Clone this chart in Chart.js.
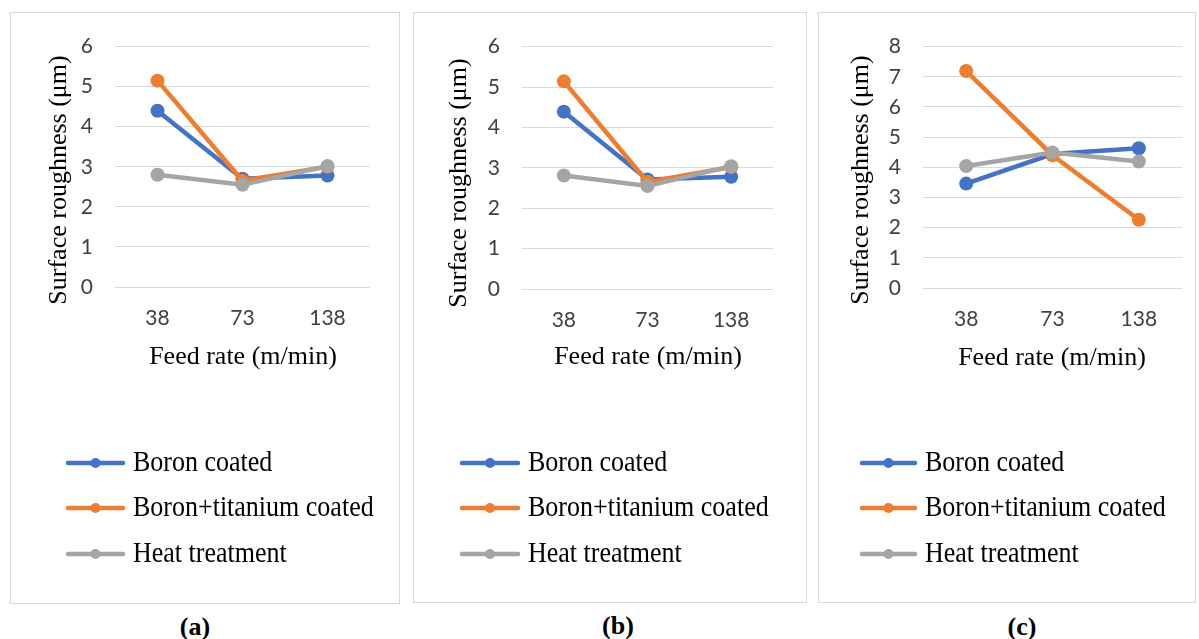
<!DOCTYPE html>
<html>
<head>
<meta charset="utf-8">
<script src="https://cdn.jsdelivr.net/npm/chart.js@4"></script>
<style>
  html,body{margin:0;padding:0;background:#fff;}
  body{width:1199px;height:639px;position:relative;overflow:hidden;}
  canvas{position:absolute;}
  .border{position:absolute;border:1px solid #d9d9d9;box-sizing:border-box;pointer-events:none;}
  .cap{position:absolute;font:bold 26px "Liberation Serif","Times New Roman",serif;color:#000;transform:translate(-50%,-50%);white-space:nowrap;}
</style>
</head>
<body>
<div class="border" style="left:10px;top:12px;width:390px;height:592px"></div>
<div class="border" style="left:413px;top:12px;width:394px;height:591px"></div>
<div class="border" style="left:818px;top:12px;width:378px;height:591px"></div>
<canvas id="ca"></canvas>
<canvas id="cb"></canvas>
<canvas id="cc"></canvas>
<div class="cap" style="left:195px;top:627px">(a)</div>
<div class="cap" style="left:618px;top:626px">(b)</div>
<div class="cap" style="left:1022px;top:627px">(c)</div>
<script>
// ---- data ----
const categories = ['38', '73', '138'];
const seriesNames = ['Boron coated', 'Boron+titanium coated', 'Heat treatment'];
const seriesColors = ['#4472C4', '#ED7D31', '#A5A5A5'];

const a_boron = [4.40, 2.70, 2.78];
const a_boronTi = [5.15, 2.65, 3.00];
const a_heat = [2.80, 2.55, 3.02];

const b_boron = [4.39, 2.71, 2.78];
const b_boronTi = [5.14, 2.65, 3.02];
const b_heat = [2.81, 2.55, 3.04];

const c_boron = [3.46, 4.44, 4.63];
const c_boronTi = [7.19, 4.40, 2.26];
const c_heat = [4.04, 4.49, 4.19];

const yMaxA = 6, yMaxB = 6, yMaxC = 8;
const xTitle = 'Feed rate (m/min)';
const yTitle = 'Surface roughness (\u03bcm)';

// ---- layout (page coordinates) ----
const panels = [
  { id: 'ca', box: {l: 10, t: 12, r: 400, b: 604}, area: {l: 115, t: 43, r: 370, b: 287},
    yMax: yMaxA, data: [a_boron, a_boronTi, a_heat],
    yT: {x: 59, y: 180}, xT: {x: 243, y: 357}, leg: {x1: 68, x2: 123, tx: 133, rows: [463, 508, 554]} },
  { id: 'cb', box: {l: 413, t: 12, r: 807, b: 603}, area: {l: 522, t: 41, r: 773, b: 289},
    yMax: yMaxB, data: [b_boron, b_boronTi, b_heat],
    yT: {x: 459, y: 183}, xT: {x: 648, y: 357}, leg: {x1: 462, x2: 518, tx: 528, rows: [463, 508, 554]} },
  { id: 'cc', box: {l: 818, t: 12, r: 1196, b: 603}, area: {l: 923, t: 43, r: 1182, b: 288},
    yMax: yMaxC, data: [c_boron, c_boronTi, c_heat],
    yT: {x: 861, y: 180}, xT: {x: 1052, y: 358}, leg: {x1: 862, x2: 915, tx: 925, rows: [463, 508, 554]} }
];

const serif = '"Liberation Serif","Times New Roman",serif';

function makePanel(p) {
  const cv = document.getElementById(p.id);
  const W = p.box.r - p.box.l, H = p.box.b - p.box.t;
  cv.width = W; cv.height = H;
  cv.style.left = p.box.l + 'px'; cv.style.top = p.box.t + 'px';
  cv.style.width = W + 'px'; cv.style.height = H + 'px';
  const ox = p.box.l, oy = p.box.t;

  const decor = {
    id: 'decor',
    afterDraw(chart) {
      const ctx = chart.ctx;
      ctx.save();
      ctx.fillStyle = '#000';
      ctx.font = '26px ' + serif;
      ctx.textAlign = 'center';
      ctx.textBaseline = 'middle';
      ctx.fillText(xTitle, p.xT.x - ox, p.xT.y - oy);
      ctx.save();
      ctx.translate(p.yT.x - ox, p.yT.y - oy);
      ctx.rotate(-Math.PI / 2);
      ctx.fillText(yTitle, 0, 0);
      ctx.restore();
      // legend
      chart.data.datasets.forEach((ds, i) => {
        const y = p.leg.rows[i] - oy;
        const x1 = p.leg.x1 - ox, x2 = p.leg.x2 - ox;
        ctx.strokeStyle = ds.borderColor;
        ctx.lineWidth = 4.5;
        ctx.lineCap = 'round';
        ctx.beginPath(); ctx.moveTo(x1, y); ctx.lineTo(x2, y); ctx.stroke();
        ctx.fillStyle = ds.borderColor;
        ctx.beginPath(); ctx.arc((x1 + x2) / 2, y, 5, 0, Math.PI * 2); ctx.fill();
        ctx.fillStyle = '#000';
        ctx.textAlign = 'left';
        ctx.save();
        ctx.translate(p.leg.tx - ox, y);
        ctx.scale(1, 1.12);
        ctx.fillText(ds.label, 0, 0);
        ctx.restore();
      });
      ctx.restore();
    }
  };

  new Chart(cv, {
    type: 'line',
    data: {
      labels: categories,
      datasets: p.data.map((vals, i) => ({
        label: seriesNames[i],
        data: vals,
        borderColor: seriesColors[i],
        backgroundColor: seriesColors[i],
        pointBackgroundColor: seriesColors[i],
        pointBorderColor: seriesColors[i],
        borderWidth: 4.5,
        pointRadius: 7,
        pointBorderWidth: 0,
        tension: 0,
        order: 3 - i
      }))
    },
    options: {
      responsive: false,
      animation: false,
      devicePixelRatio: 1,
      layout: { padding: { left: 0, top: p.area.t - p.box.t, right: p.box.r - p.area.r, bottom: 0 } },
      plugins: { legend: { display: false }, tooltip: { enabled: false } },
      scales: {
        x: {
          offset: true,
          grid: { display: false, drawTicks: false },
          border: { display: false },
          ticks: { font: { family: 'Lato', size: 21 }, color: '#404040', padding: 19, maxRotation: 0 },
          afterFit: (s) => { s.height = p.box.b - p.area.b; }
        },
        y: {
          min: 0, max: p.yMax,
          grid: { color: '#d9d9d9', lineWidth: 1, drawTicks: false },
          border: { display: false },
          ticks: { stepSize: 1, font: { family: 'Lato', size: 21 }, color: '#404040', padding: 22 },
          afterFit: (s) => { s.width = p.area.l - p.box.l; }
        }
      }
    },
    plugins: [decor]
  });
}

panels.forEach(makePanel);
</script>
</body>
</html>
